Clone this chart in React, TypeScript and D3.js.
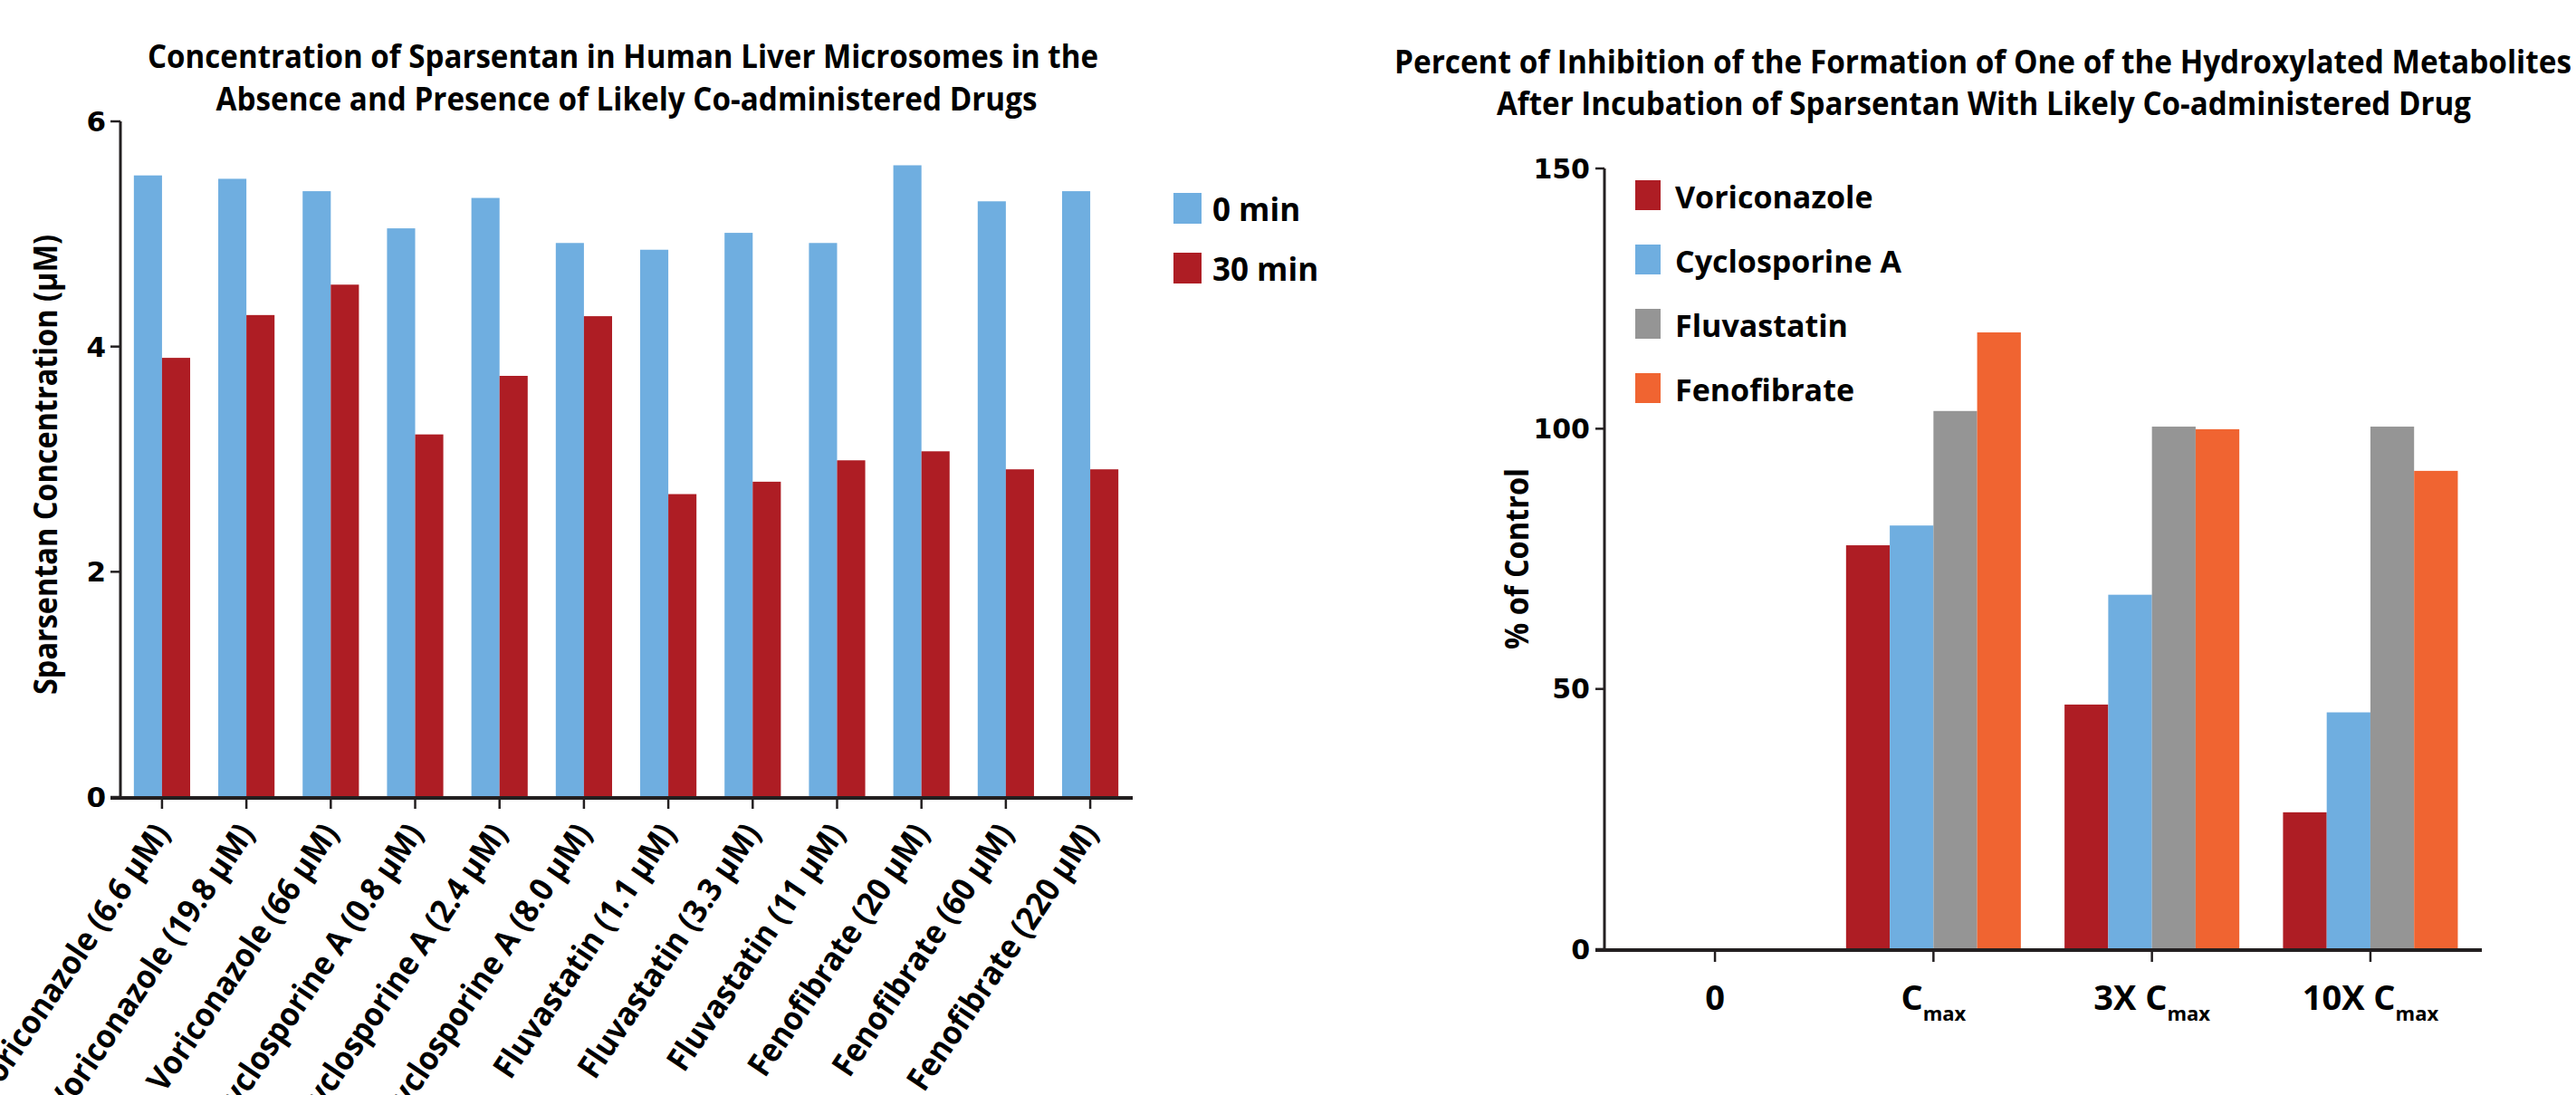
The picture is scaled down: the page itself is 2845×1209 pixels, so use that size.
import React, { useEffect, useRef } from "react";
import * as d3 from "d3";

const W = 2845;
const H = 1209;

// --- left chart data ---
const leftCategories = [
    "Voriconazole (6.6 µM)",
    "Voriconazole (19.8 µM)",
    "Voriconazole (66 µM)",
    "Cyclosporine A (0.8 µM)",
    "Cyclosporine A (2.4 µM)",
    "Cyclosporine A (8.0 µM)",
    "Fluvastatin (1.1 µM)",
    "Fluvastatin (3.3 µM)",
    "Fluvastatin (11 µM)",
    "Fenofibrate (20 µM)",
    "Fenofibrate (60 µM)",
    "Fenofibrate (220 µM)",
];
const leftSeries = ["0 min", "30 min"];
const conc0min = [5.52, 5.49, 5.38, 5.05, 5.32, 4.92, 4.86, 5.01, 4.92, 5.61, 5.29, 5.38];
const conc30min = [3.9, 4.28, 4.55, 3.22, 3.74, 4.27, 2.69, 2.8, 2.99, 3.07, 2.91, 2.91];
const leftTicks = [0, 2, 4, 6];

// --- right chart data ---
const rightGroups = ["0", "C_max", "3X C_max", "10X C_max"];
const rightSeries = ["Voriconazole", "Cyclosporine A", "Fluvastatin", "Fenofibrate"];
const voriconazole = [0, 77.6, 47.0, 26.3];
const cyclosporineA = [0, 81.4, 68.1, 45.5];
const fluvastatin = [0, 103.4, 100.4, 100.4];
const fenofibrate = [0, 118.5, 99.9, 91.9];
const rightTicks = [0, 50, 100, 150];

const BLUE = "#6faee0";
const RED = "#ae1d24";
const GREY = "#959595";
const ORANGE = "#f06431";
const AXIS = "#231f20";
const TITLE_FONT = "'Open Sans', sans-serif";
const TICK_FONT = "'DejaVu Sans', sans-serif";

export default function App() {
    const svgRef = useRef<SVGSVGElement>(null);

    useEffect(() => {
        if (!svgRef.current) return;
        const svg = d3.select(svgRef.current);
        svg.selectAll("*").remove();

        const bold = (sel: any, size: number, family = TITLE_FONT) =>
            sel.attr("font-family", family).attr("font-weight", "bold").attr("font-size", size).attr("fill", "#000");

        // ================= LEFT CHART =================
        const L = svg.append("g");
        const lx = d3.scaleBand<string>().domain(leftCategories).range([132, 1251]).paddingInner(0.333).paddingOuter(0.17);
        const lxInner = d3.scaleBand<string>().domain(leftSeries).range([0, lx.bandwidth()]);
        const ly = d3.scaleLinear().domain([0, 6]).range([880, 134]);
        const leftRows = leftCategories.map((c, i) => ({ cat: c, vals: [conc0min[i], conc30min[i]] }));
        const leftColors = [BLUE, RED];

        // titles
        bold(L.append("text"), 35).attr("x", 688).attr("y", 75).attr("text-anchor", "middle")
            .attr("textLength", 1050).attr("lengthAdjust", "spacingAndGlyphs")
            .text("Concentration of Sparsentan in Human Liver Microsomes in the");
        bold(L.append("text"), 35).attr("x", 692).attr("y", 122).attr("text-anchor", "middle")
            .attr("textLength", 907).attr("lengthAdjust", "spacingAndGlyphs")
            .text("Absence and Presence of Likely Co-administered Drugs");

        // bars
        leftRows.forEach((row) => {
            row.vals.forEach((v, j) => {
                L.append("rect")
                    .attr("x", (lx(row.cat) ?? 0) + (lxInner(leftSeries[j]) ?? 0))
                    .attr("y", ly(v))
                    .attr("width", lxInner.bandwidth())
                    .attr("height", ly(0) - ly(v))
                    .attr("fill", leftColors[j]);
            });
        });

        // y axis
        L.append("line").attr("x1", 133).attr("x2", 133).attr("y1", ly(6)).attr("y2", ly(0) + 2)
            .attr("stroke", AXIS).attr("stroke-width", 3);
        leftTicks.forEach((t) => {
            L.append("line").attr("x1", 122).attr("x2", 133).attr("y1", ly(t)).attr("y2", ly(t))
                .attr("stroke", AXIS).attr("stroke-width", 2.5);
            bold(L.append("text"), 31, TICK_FONT).attr("x", 117).attr("y", ly(t)).attr("dy", "0.36em")
                .attr("text-anchor", "end").text(t);
        });
        bold(L.append("text"), 35).attr("transform", `translate(63,513) rotate(-90)`)
            .attr("text-anchor", "middle").attr("textLength", 508).attr("lengthAdjust", "spacingAndGlyphs")
            .text("Sparsentan Concentration (µM)");

        // x axis
        L.append("line").attr("x1", 122).attr("x2", 1251).attr("y1", ly(0) + 1).attr("y2", ly(0) + 1)
            .attr("stroke", AXIS).attr("stroke-width", 4);
        leftCategories.forEach((c) => {
            const cx = (lx(c) ?? 0) + lx.bandwidth() / 2;
            L.append("line").attr("x1", cx).attr("x2", cx).attr("y1", ly(0)).attr("y2", ly(0) + 13)
                .attr("stroke", AXIS).attr("stroke-width", 2.5);
            const lbl = bold(L.append("text"), 36).attr("text-anchor", "end")
                .attr("transform", `translate(${cx + 10},920) rotate(-56)`)
                .text(c);
            // narrower face, like the original's condensed bold
            const len = (lbl.node() as SVGTextElement).getComputedTextLength();
            lbl.attr("textLength", len * 0.93).attr("lengthAdjust", "spacingAndGlyphs");
        });

        // legend
        leftSeries.forEach((s, i) => {
            const y0 = 213 + i * 66;
            L.append("rect").attr("x", 1296).attr("y", y0).attr("width", 31).attr("height", 34).attr("fill", leftColors[i]);
            bold(L.append("text"), 35).attr("x", 1339).attr("y", y0 + 31).text(s);
        });

        // ================= RIGHT CHART =================
        const R = svg.append("g");
        const rx = d3.scaleBand<string>().domain(rightGroups).range([1771, 2741]).paddingInner(0.2).paddingOuter(0.11);
        const rxInner = d3.scaleBand<string>().domain(rightSeries).range([0, rx.bandwidth()]);
        const ry = d3.scaleLinear().domain([0, 150]).range([1048, 186]);
        const rightVals = [voriconazole, cyclosporineA, fluvastatin, fenofibrate];
        const rightColors = [RED, BLUE, GREY, ORANGE];

        bold(R.append("text"), 35).attr("x", 2190).attr("y", 81).attr("text-anchor", "middle")
            .attr("textLength", 1300).attr("lengthAdjust", "spacingAndGlyphs")
            .text("Percent of Inhibition of the Formation of One of the Hydroxylated Metabolites");
        bold(R.append("text"), 35).attr("x", 2191).attr("y", 127).attr("text-anchor", "middle")
            .attr("textLength", 1076).attr("lengthAdjust", "spacingAndGlyphs")
            .text("After Incubation of Sparsentan With Likely Co-administered Drug");

        rightGroups.forEach((g, i) => {
            rightSeries.forEach((s, j) => {
                const v = rightVals[j][i];
                if (v <= 0) return;
                R.append("rect")
                    .attr("x", (rx(g) ?? 0) + (rxInner(s) ?? 0))
                    .attr("y", ry(v))
                    .attr("width", rxInner.bandwidth())
                    .attr("height", ry(0) - ry(v))
                    .attr("fill", rightColors[j]);
            });
        });

        // y axis
        R.append("line").attr("x1", 1772).attr("x2", 1772).attr("y1", ry(150)).attr("y2", ry(0) + 2)
            .attr("stroke", AXIS).attr("stroke-width", 3);
        rightTicks.forEach((t) => {
            R.append("line").attr("x1", 1762).attr("x2", 1772).attr("y1", ry(t)).attr("y2", ry(t))
                .attr("stroke", AXIS).attr("stroke-width", 2.5);
            bold(R.append("text"), 30, TICK_FONT).attr("x", 1756).attr("y", ry(t)).attr("dy", "0.36em")
                .attr("text-anchor", "end").text(t);
        });
        bold(R.append("text"), 35).attr("transform", `translate(1688,617) rotate(-90)`)
            .attr("text-anchor", "middle").attr("textLength", 200).attr("lengthAdjust", "spacingAndGlyphs")
            .text("% of Control");

        // x axis
        R.append("line").attr("x1", 1762).attr("x2", 2741).attr("y1", ry(0) + 1).attr("y2", ry(0) + 1)
            .attr("stroke", AXIS).attr("stroke-width", 4);
        rightGroups.forEach((g) => {
            const cx = (rx(g) ?? 0) + rx.bandwidth() / 2;
            R.append("line").attr("x1", cx).attr("x2", cx).attr("y1", ry(0)).attr("y2", ry(0) + 14)
                .attr("stroke", AXIS).attr("stroke-width", 2.5);
            const [main, sub] = g.split("_");
            const t = bold(R.append("text"), 38).attr("x", cx).attr("y", 1115).attr("text-anchor", "middle");
            t.append("tspan").text(main);
            if (sub) t.append("tspan").attr("font-size", 22).attr("dy", 12).text(sub);
        });

        // legend
        rightSeries.forEach((s, i) => {
            const y0 = 199 + i * 71;
            R.append("rect").attr("x", 1806).attr("y", y0).attr("width", 28).attr("height", 33).attr("fill", rightColors[i]);
            bold(R.append("text"), 34).attr("x", 1850).attr("y", y0 + 31).text(s);
        });
    }, []);

    return (
        <div style={{ position: "absolute", left: 0, top: 0, width: W, height: H, background: "#fff" }}>
            <svg ref={svgRef} width={W} height={H} style={{ display: "block" }} />
        </div>
    );
}
